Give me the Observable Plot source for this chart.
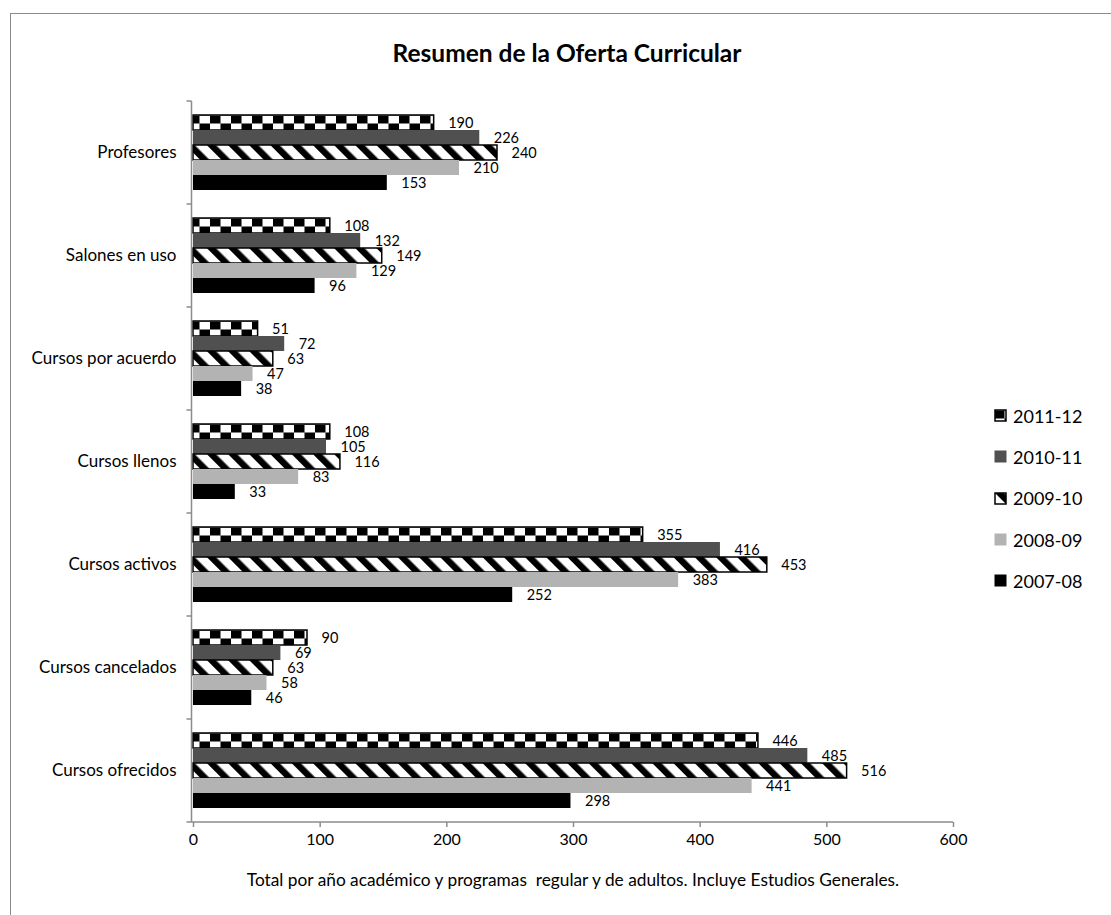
<!DOCTYPE html>
<html><head><meta charset="utf-8">
<script src="https://cdn.jsdelivr.net/npm/d3@7"></script>
<script src="https://cdn.jsdelivr.net/npm/@observablehq/plot@0.6"></script>
<style>
body{margin:0;background:#fff;font-family:Lato, "Open Sans", sans-serif;color:#000;}
#wrap{position:relative;width:1111px;height:915px;overflow:hidden;}
#border{position:absolute;left:10px;top:13px;width:1300px;height:1100px;border:1.5px solid #8c8c8c;box-sizing:border-box;}
#title{position:absolute;left:0;width:1134px;top:38px;text-align:center;font-weight:bold;font-size:24.5px;line-height:30px;}
#chart{position:absolute;left:0;top:0;}
#caption{position:absolute;left:0;width:1146px;top:869px;text-align:center;font-size:17.3px;line-height:22px;white-space:pre;}
#legend{position:absolute;left:994px;top:395px;}
.item{height:41.3px;display:flex;align-items:center;font-size:18px;}
.item svg{margin-right:6px;}
</style>
</head><body>
<div id="wrap">
  <div id="border"></div>
  <div id="title"></div>
  <div id="chart"></div>
  <div id="legend"></div>
  <div id="caption"></div>
</div>
<script>
const titleText = "Resumen de la Oferta Curricular";
const captionText = "Total por año académico y programas  regular y de adultos. Incluye Estudios Generales.";
const categories = ["Profesores","Salones en uso","Cursos por acuerdo","Cursos llenos","Cursos activos","Cursos cancelados","Cursos ofrecidos"];
const series = ["2011-12","2010-11","2009-10","2008-09","2007-08"];
const v2011_12 = [190,108,51,108,355,90,446];
const v2010_11 = [226,132,72,105,416,69,485];
const v2009_10 = [240,149,63,116,453,63,516];
const v2008_09 = [210,129,47,83,383,58,441];
const v2007_08 = [153,96,38,33,252,46,298];
const xTicks = [0,100,200,300,400,500,600];

const seriesValues = [v2011_12, v2010_11, v2009_10, v2008_09, v2007_08];
const fills = {"2011-12":"url(#patCheck)","2010-11":"#505050","2009-10":"url(#patStripe)","2008-09":"#b3b3b3","2007-08":"#000000"};
const outlined = {"2011-12":true,"2009-10":true};

const data = categories.flatMap((c,i)=>series.map((s,j)=>({cat:c, ser:s, value:seriesValues[j][i]})));

document.getElementById("title").textContent = titleText;
document.getElementById("caption").textContent = captionText;

const plot = Plot.plot({
  width:1111, height:915,
  marginLeft:193, marginRight:158, marginTop:99, marginBottom:92,
  style:{fontFamily:"Lato, 'Open Sans', sans-serif", color:"#000", background:"transparent", overflow:"visible"},
  x:{domain:[0,600]},
  fy:{domain:categories, padding:0},
  y:{domain:series, paddingInner:0, paddingOuter:0.73},
  color:{type:"identity"},
  marks:[
    Plot.barX(data,{fy:"cat", y:"ser", x:"value", fill:d=>fills[d.ser], stroke:d=>outlined[d.ser]?"#000":"none", strokeWidth:1.5}),
    Plot.text(data,{fy:"cat", y:"ser", x:"value", text:d=>String(d.value), textAnchor:"start", dx:14, fontSize:14.5, fill:"#000"}),
    Plot.axisX({ticks:xTicks, tickSize:5, tickPadding:6, stroke:"#8c8c8c", strokeWidth:1.5, fontSize:16, label:null, tickFormat:d=>String(d)}),
    Plot.axisFy({anchor:"left", tickSize:0, tickPadding:17, fontSize:17, label:null}),
    Plot.axisY({ticks:[], label:null, tickSize:0})
  ]
});
document.getElementById("chart").appendChild(plot);

const svg = d3.select(plot);
const defs = svg.insert("defs",":first-child");
const ys = plot.scale("y");
const y0 = ys.apply(series[0]);
const cp = defs.append("pattern").attr("id","patCheck").attr("patternUnits","userSpaceOnUse")
  .attr("width",21).attr("height",16).attr("y",y0+0.5);
cp.append("rect").attr("width",21).attr("height",16).attr("fill","#fff");
cp.append("rect").attr("x",0).attr("y",0).attr("width",10.5).attr("height",8).attr("fill","#000");
cp.append("rect").attr("x",10.5).attr("y",8).attr("width",10.5).attr("height",8).attr("fill","#000");
const sp = defs.append("pattern").attr("id","patStripe").attr("patternUnits","userSpaceOnUse")
  .attr("width",15).attr("height",15).attr("patternTransform","rotate(-45)");
sp.append("rect").attr("width",15).attr("height",15).attr("fill","#fff");
sp.append("rect").attr("width",6.5).attr("height",15).attr("fill","#000");

// axis lines & category boundary ticks (Excel style)
const fy = plot.scale("fy");
const xs = plot.scale("x");
const bw = fy.bandwidth;
const topY = fy.apply(categories[0]);
const botY = fy.apply(categories[categories.length-1]) + bw;
const ax = xs.apply(0) - 1.5;
const g = svg.append("g").attr("stroke","#8c8c8c").attr("stroke-width",1.5).attr("fill","none");
g.append("line").attr("x1",ax).attr("x2",ax).attr("y1",topY).attr("y2",botY);
g.append("line").attr("x1",ax).attr("x2",xs.apply(600)).attr("y1",botY).attr("y2",botY);
const bounds = categories.map(c=>fy.apply(c)).concat([botY]);
bounds.forEach(b=>g.append("line").attr("x1",ax-5).attr("x2",ax).attr("y1",b).attr("y2",b));

// legend
const leg = d3.select("#legend");
series.forEach(s=>{
  const it = leg.append("div").attr("class","item");
  const sw = it.append("svg").attr("width",13).attr("height",13);
  sw.append("rect").attr("x",outlined[s]?1:0.5).attr("y",outlined[s]?1:0.5)
    .attr("width",outlined[s]?11:12).attr("height",outlined[s]?11:12)
    .attr("fill",fills[s]).attr("stroke",outlined[s]?"#000":"none").attr("stroke-width",1.5);
  it.append("span").text(s);
});
</script>
</body></html>
